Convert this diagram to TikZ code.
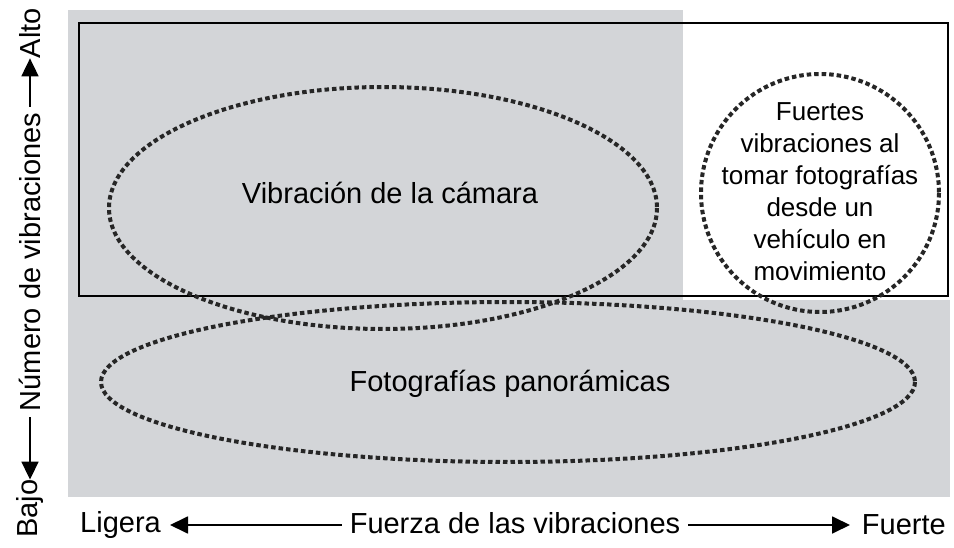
\documentclass[tikz,border=0pt]{standalone}
\usepackage{fontspec}
\setmainfont{Liberation Sans}
\usetikzlibrary{arrows.meta}
\begin{document}
\begin{tikzpicture}[x=1pt,y=-1pt,
  dot/.style={draw=black!85,line width=4pt,dash pattern=on 4.5pt off 3pt},
  lbl/.style={font=\fontsize{29}{32}\selectfont,inner sep=0pt},
  arr/.style={line width=1.8pt,-{Triangle[length=18pt,width=17pt]}}]
\useasboundingbox (0,0) rectangle (954,548);
\fill[white] (0,0) rectangle (954,548);
\fill[fill={rgb,255:red,211;green,213;blue,216}] (68,10) rectangle (683,300);
\fill[fill={rgb,255:red,211;green,213;blue,216}] (68,300) rectangle (950,497);
\node[draw,line width=2.2pt,minimum width=869pt,minimum height=273pt,anchor=north west,inner sep=0pt] (frame) at (78,22) {};
\draw[dot] (383,208) ellipse [x radius=274,y radius=121];
\draw[dot] (508,382) ellipse [x radius=407,y radius=80];
\draw[dot] (820,193) circle [radius=119];
\node[lbl] (cam) at (390,193) {Vibración de la cámara};
\node[lbl] (pan) at (510,384) {Fotografías panorámicas};
\node[lbl,align=center,font=\fontsize{26}{32}\selectfont] (veh) at (820,192) {Fuertes\\vibraciones al\\tomar fotografías\\desde un\\vehículo en\\movimiento};
\node[lbl,anchor=west] (lig) at (80,525) {Ligera};
\node[lbl] (fue) at (515,523) {Fuerza de las vibraciones};
\node[lbl,anchor=east] (fte) at (946,525) {Fuerte};
\draw[arr] (fue.west) ++(-8,2) coordinate (a1) -- (170,525);
\draw[arr] (fue.east) ++(8,2) coordinate (a2) -- (850,525);
\node[lbl,rotate=90,anchor=west] (bajo) at (30,538) {Bajo};
\node[lbl,rotate=90] (num) at (30,262) {Número de vibraciones};
\node[lbl,rotate=90,anchor=east] (alto) at (30,8) {Alto};
\draw[arr] (num.west) ++(0,6) -- (bajo.east);
\draw[arr] (num.east) ++(0,-6) -- (alto.west);
\end{tikzpicture}
\end{document}
